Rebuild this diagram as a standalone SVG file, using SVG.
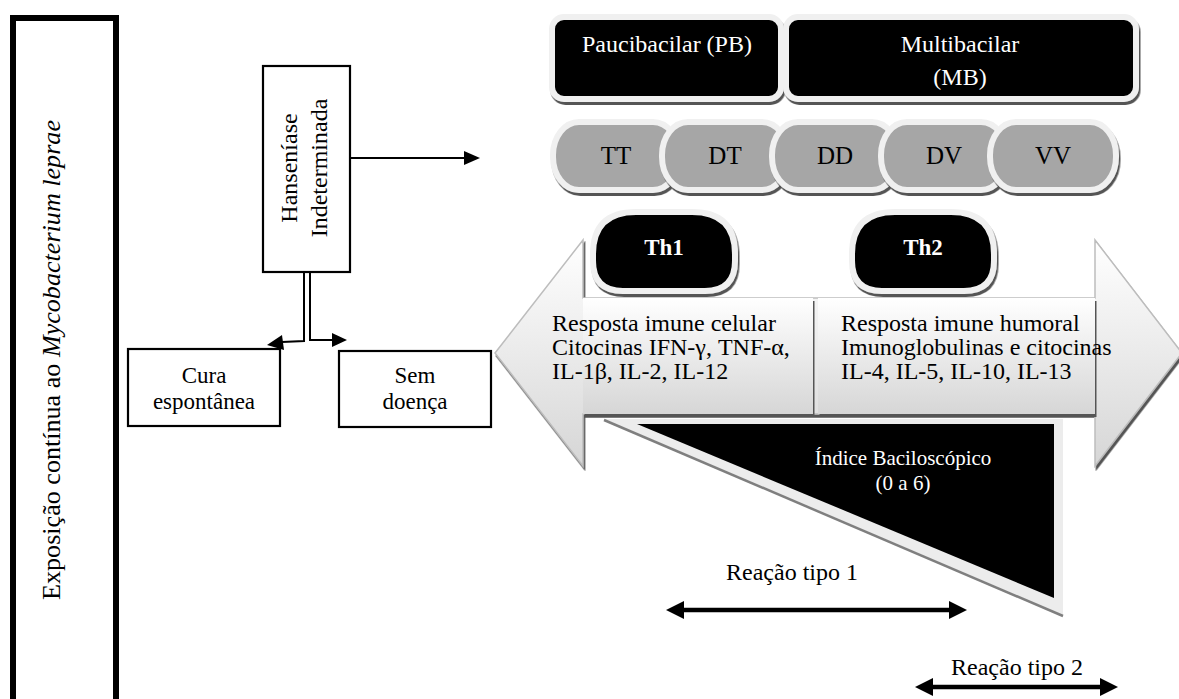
<svg xmlns="http://www.w3.org/2000/svg" width="1179" height="699" viewBox="0 0 1179 699">
<style>
text{font-family:"Liberation Serif","Times New Roman",serif;}
.t24{font-size:24px}
.wt{fill:#fff}
.box{fill:#fff;stroke:#000;stroke-width:2.2}
.blk{fill:#000;stroke:#f0f0f0;stroke-width:6}
.pill{fill:#a6a6a6;stroke:#f0f0f0;stroke-width:6}
.ln{fill:none;stroke:#000;stroke-width:2}
.mid{text-anchor:middle}
</style>
<defs>
<filter id="sh" x="-10%" y="-10%" width="130%" height="140%"><feDropShadow dx="1.5" dy="3" stdDeviation="0.4" flood-color="#555" flood-opacity="1"/></filter>
<linearGradient id="gr" x1="0" y1="0" x2="0" y2="1"><stop offset="0" stop-color="#ffffff"/><stop offset="1" stop-color="#d6d6d6"/></linearGradient>
</defs>

<g id="exposicao">
<rect x="13" y="18" width="103" height="700" fill="#fff" stroke="#000" stroke-width="6"/>
<text transform="translate(60,360) rotate(-90)" class="mid" font-size="25" textLength="480" lengthAdjust="spacingAndGlyphs">Exposição contínua ao <tspan font-style="italic">Mycobacterium leprae</tspan></text>
</g>

<g id="hanseniase">
<rect class="box" x="263" y="66" width="87" height="206"/>
<text transform="translate(297,168) rotate(-90)" class="mid t24">Hanseníase</text>
<text transform="translate(327,168) rotate(-90)" class="mid t24">Indeterminada</text>
</g>

<g id="cura">
<rect class="box" x="128" y="349" width="152" height="77"/>
<text x="204" y="383" class="mid" font-size="23">Cura</text>
<text x="204" y="409" class="mid" font-size="23">espontânea</text>
</g>

<g id="sem-doenca">
<rect class="box" x="339" y="351" width="152" height="76"/>
<text x="415" y="383" class="mid" font-size="23">Sem</text>
<text x="415" y="409" class="mid" font-size="23">doença</text>
</g>

<g id="connectors">
<line class="ln" x1="350" y1="158" x2="466" y2="158"/>
<polygon points="480,158 464,151 464,165" fill="#000"/>
<path class="ln" d="M304,272 V341 L282,342"/>
<polygon points="267,345 282,335 284,350" fill="#000"/>
<path class="ln" d="M310,272 V340 H333"/>
<polygon points="347,340 332,333 332,347" fill="#000"/>
</g>

<g id="classificacao">
<rect class="blk" x="552" y="17" width="229" height="82" rx="12" filter="url(#sh)"/>
<rect class="blk" x="786" y="17" width="350" height="82" rx="12" filter="url(#sh)"/>
<text x="667" y="52" class="mid t24 wt">Paucibacilar (PB)</text>
<text x="960" y="52" class="mid t24 wt">Multibacilar</text>
<text x="960" y="85" class="mid t24 wt">(MB)</text>
</g>

<g id="formas">
<rect class="pill" x="553" y="122" width="126" height="68" rx="26" ry="33" filter="url(#sh)"/>
<rect class="pill" x="662" y="122" width="126" height="68" rx="26" ry="33" filter="url(#sh)"/>
<rect class="pill" x="772" y="122" width="126" height="68" rx="26" ry="33" filter="url(#sh)"/>
<rect class="pill" x="881" y="122" width="126" height="68" rx="26" ry="33" filter="url(#sh)"/>
<rect class="pill" x="990" y="122" width="126" height="68" rx="26" ry="33" filter="url(#sh)"/>
<text x="616" y="164" class="mid" font-size="25">TT</text>
<text x="725" y="164" class="mid" font-size="25">DT</text>
<text x="835" y="164" class="mid" font-size="25">DD</text>
<text x="944" y="164" class="mid" font-size="25">DV</text>
<text x="1053" y="164" class="mid" font-size="25">VV</text>
</g>

<g id="resposta">
<polygon points="495,353 583,240 583,298 1095,298 1095,240 1182,353 1095,466 1095,414 583,414 583,466" fill="url(#gr)" stroke="#bdbdbd" stroke-width="1.5" filter="url(#sh)"/>
<rect x="583" y="298" width="230" height="116" fill="url(#gr)" filter="url(#sh)"/>
<rect x="818" y="298" width="277" height="116" fill="url(#gr)" filter="url(#sh)"/>
<text x="552" y="331" class="t24">Resposta imune celular</text>
<text x="552" y="355" class="t24">Citocinas IFN-γ, TNF-α,</text>
<text x="552" y="379" class="t24">IL-1β, IL-2, IL-12</text>
<text x="841" y="331" class="t24">Resposta imune humoral</text>
<text x="841" y="355" class="t24">Imunoglobulinas e citocinas</text>
<text x="841" y="379" class="t24">IL-4, IL-5, IL-10, IL-13</text>
</g>

<g id="th1">
<path class="blk" d="M593,254 Q593,212 636,212 H692 Q735,212 735,254 V261 Q735,291 705,291 H623 Q593,291 593,261 Z" filter="url(#sh)"/>
<text x="664" y="255" class="mid wt" font-size="23" font-weight="bold">Th1</text>
</g>
<g id="th2">
<path class="blk" d="M852,254 Q852,212 895,212 H951 Q994,212 994,254 V261 Q994,291 964,291 H882 Q852,291 852,261 Z" filter="url(#sh)"/>
<text x="923" y="255" class="mid wt" font-size="23" font-weight="bold">Th2</text>
</g>

<g id="indice">
<polygon points="604,419 1063,419 1063,615" fill="#ececec"/>
<line x1="604" y1="420" x2="1063" y2="616" stroke="#7f7f7f" stroke-width="2.5"/>
<polygon points="637,424 1054,424 1054,598" fill="#000"/>
<text x="903" y="465" class="mid wt" font-size="21">Índice Baciloscópico</text>
<text x="903" y="490" class="mid wt" font-size="21">(0 a 6)</text>
</g>

<g id="reacoes">
<text x="792" y="580" class="mid t24">Reação tipo 1</text>
<line x1="682" y1="610" x2="951" y2="610" stroke="#000" stroke-width="4.5"/>
<polygon points="666,610 684,601 684,619" fill="#000"/>
<polygon points="967,610 949,601 949,619" fill="#000"/>
<text x="1017" y="675" class="mid t24">Reação tipo 2</text>
<line x1="931" y1="687" x2="1102" y2="687" stroke="#000" stroke-width="4.5"/>
<polygon points="915,687 933,678 933,696" fill="#000"/>
<polygon points="1118,687 1100,678 1100,696" fill="#000"/>
</g>
</svg>
